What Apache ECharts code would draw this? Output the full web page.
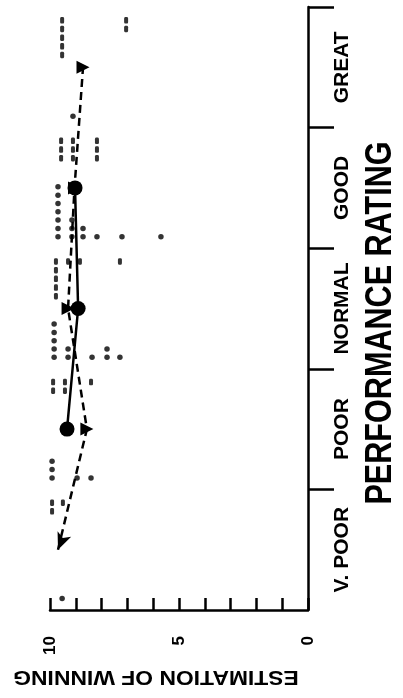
<!DOCTYPE html>
<html>
<head>
<meta charset="utf-8">
<script src="https://cdn.jsdelivr.net/npm/echarts@6/dist/echarts.min.js"></script>
<style>
html,body{margin:0;padding:0;background:#fff;}
#chart{width:403px;height:698px;}
</style>
</head>
<body>
<div id="chart"></div>
<script>
// ---- data ----
const categories = ['V. POOR', 'POOR', 'NORMAL', 'GOOD', 'GREAT'];
const valueTickLabels = [0, 5, 10];
const axisTitleValue = 'ESTIMATION OF WINNING';
const axisTitleCategory = 'PERFORMANCE RATING';

// solid line (mean, group A)
const solidCats = ['POOR', 'NORMAL', 'GOOD'];
const solidMeans = [9.34, 8.91, 9.03];

// dashed line (mean, group B)
const dashedCats = ['V. POOR', 'POOR', 'NORMAL', 'GOOD', 'GREAT'];
const dashedMeans = [9.69, 8.57, 9.3, 9.05, 8.72];

// individual responses: [category, estimate, number of responses]
const dotsA = [
  ['V. POOR', 9.53, 1],
  ['POOR', 9.92, 3], ['POOR', 8.95, 1], ['POOR', 8.41, 1],
  ['NORMAL', 9.84, 5], ['NORMAL', 9.30, 2], ['NORMAL', 8.37, 1], ['NORMAL', 7.79, 2], ['NORMAL', 7.29, 1],
  ['GOOD', 9.69, 7], ['GOOD', 9.15, 3], ['GOOD', 8.72, 2], ['GOOD', 8.18, 1], ['GOOD', 7.21, 1], ['GOOD', 5.70, 1],
  ['GREAT', 9.11, 1]
];
const dotsB = [
  ['V. POOR', 9.92, 2], ['V. POOR', 9.5, 1],
  ['POOR', 9.88, 2], ['POOR', 9.42, 2], ['POOR', 8.41, 1],
  ['NORMAL', 9.77, 5], ['NORMAL', 9.30, 1], ['NORMAL', 8.84, 1], ['NORMAL', 7.29, 1],
  ['GOOD', 9.57, 3], ['GOOD', 9.11, 3], ['GOOD', 8.18, 3],
  ['GREAT', 9.53, 5], ['GREAT', 7.05, 2]
];

// ---- layout helpers (stacking inside each category band) ----
const A_START = 0.095, A_STEP = 0.069;   // group A stacks upward from band bottom
const B_START = 0.11, B_STEP = 0.072;    // group B stacks downward from band top

function stackA(list) {
  const out = [];
  list.forEach(([c, v, n]) => {
    const ci = categories.indexOf(c);
    for (let k = 0; k < n; k++) out.push([v, ci + A_START + k * A_STEP]);
  });
  return out;
}
function stackB(list) {
  const out = [];
  list.forEach(([c, v, n]) => {
    const ci = categories.indexOf(c);
    for (let k = 0; k < n; k++) out.push([v, ci + 1 - B_START - k * B_STEP]);
  });
  return out;
}

const chart = echarts.init(document.getElementById('chart'), null, {renderer: 'canvas'});
const FONT = '"Liberation Sans", Arial, sans-serif';

const dashedData = dashedCats.map((c, i) => {
  if (i === 0) {
    return {value: [dashedMeans[i], c], symbol: 'arrow', symbolSize: [11, 17], symbolRotate: 158};
  }
  return {value: [dashedMeans[i], c], symbol: 'triangle', symbolSize: 13, symbolRotate: -90};
});

chart.setOption({
  animation: false,
  backgroundColor: '#fff',
  grid: {left: 50, right: 95, top: 7, bottom: 88, containLabel: false},
  xAxis: {
    type: 'value', min: 0, max: 10, interval: 1, inverse: true, position: 'bottom',
    axisLine: {show: true, lineStyle: {color: '#000', width: 2.5}},
    axisTick: {show: true, inside: true, length: 12, lineStyle: {color: '#000', width: 2.5}},
    axisLabel: {
      rotate: 90, margin: 26, fontSize: 17, fontWeight: 'bold', color: '#000', fontFamily: FONT,
      formatter: v => valueTickLabels.includes(v) ? String(v) : ''
    },
    splitLine: {show: false}
  },
  yAxis: [
    {
      type: 'category', data: categories, position: 'right', boundaryGap: true,
      axisLine: {show: true, lineStyle: {color: '#000', width: 2.5}},
      axisTick: {show: true, inside: false, length: 26, lineStyle: {color: '#000', width: 2.5},
        interval: function (i) { return i !== 0; }},
      axisLabel: {rotate: 90, margin: 24, fontSize: 21, fontWeight: 'bold', color: '#000', fontFamily: FONT, interval: 0},
      splitLine: {show: false}
    },
    {type: 'value', min: 0, max: 5, show: false}
  ],
  graphic: [
    {
      type: 'text', x: 381, y: 323, rotation: Math.PI / 2, scaleX: 0.85,
      style: {text: axisTitleCategory, fontSize: 36, fontWeight: 'bold', fontFamily: FONT,
        fill: '#000', align: 'center', verticalAlign: 'middle'}
    },
    {
      type: 'text', x: 156, y: 677, rotation: Math.PI, scaleX: 1.09,
      style: {text: axisTitleValue, fontSize: 21, fontWeight: 'bold', fontFamily: FONT,
        fill: '#000', align: 'center', verticalAlign: 'middle'}
    }
  ],
  series: [
    {
      type: 'scatter', yAxisIndex: 1, data: stackA(dotsA),
      symbol: 'circle', symbolSize: 5.5, itemStyle: {color: '#000'}, z: 2
    },
    {
      type: 'scatter', yAxisIndex: 1, data: stackB(dotsB),
      symbol: 'roundRect', symbolSize: [4, 6.5], itemStyle: {color: '#000'}, z: 2
    },
    {
      type: 'line', yAxisIndex: 0, data: dashedData,
      lineStyle: {color: '#000', width: 2.5, type: [8, 5]},
      itemStyle: {color: '#000'}, z: 3
    },
    {
      type: 'line', yAxisIndex: 0, data: solidCats.map((c, i) => [solidMeans[i], c]),
      symbol: 'circle', symbolSize: 15,
      lineStyle: {color: '#000', width: 2.5, type: 'solid'},
      itemStyle: {color: '#000'}, z: 4
    }
  ]
});
</script>
</body>
</html>
